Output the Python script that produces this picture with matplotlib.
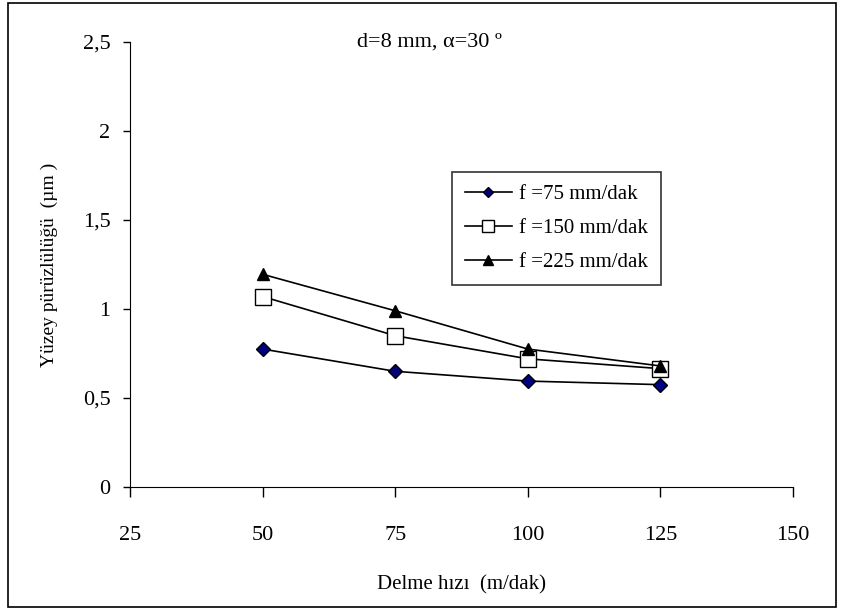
import matplotlib
matplotlib.use("Agg")
import matplotlib.pyplot as plt
from matplotlib.patches import Rectangle
from matplotlib.ticker import FuncFormatter

plt.rcParams["font.family"] = ["Liberation Serif", "DejaVu Serif"]

# data
speed = [50, 75, 100, 125]
f75 = [0.775, 0.65, 0.595, 0.575]
f150 = [1.07, 0.85, 0.72, 0.665]
f225 = [1.195, 0.99, 0.775, 0.68]
labels = ["f =75 mm/dak", "f =150 mm/dak", "f =225 mm/dak"]
x_ticks = [25, 50, 75, 100, 125, 150]
y_ticks = [0, 0.5, 1, 1.5, 2, 2.5]

fig = plt.figure(figsize=(8.44, 6.15), dpi=100)
fig.patches.append(Rectangle((8 / 844, 1 - 607 / 615), 828 / 844, 604 / 615,
                             transform=fig.transFigure, fill=False,
                             edgecolor="black", linewidth=1.2))

ax = fig.add_axes([130 / 844, 1 - 487 / 615, 663 / 844, 445 / 615])

ax.plot(speed, f75, color="black", lw=1.2, marker="D", ms=7,
        mfc="#000080", mec="black", mew=1, label=labels[0])
ax.plot(speed, f150, color="black", lw=1.2, marker="s", ms=11,
        mfc="white", mec="black", mew=1, label=labels[1])
ax.plot(speed, f225, color="black", lw=1.2, marker="^", ms=9,
        mfc="black", mec="black", label=labels[2])

ax.set_xlim(25, 150)
ax.set_ylim(0, 2.5)
ax.set_xticks(x_ticks)
ax.set_yticks(y_ticks)
ax.yaxis.set_major_formatter(FuncFormatter(lambda v, p: f"{v:g}".replace(".", ",")))
ax.spines["top"].set_visible(False)
ax.spines["right"].set_visible(False)
ax.tick_params(direction="out", labelsize=16, width=1)
ax.tick_params(axis="x", length=7, pad=21)
ax.tick_params(axis="y", length=5, pad=9)

ax.set_xlabel("Delme hızı  (m/dak)", fontsize=15, labelpad=22)
ax.set_ylabel("Yüzey pürüzlülüğü  (µm )", fontsize=14, labelpad=18)
ax.text(0.452, 1.0, "d=8 mm, α=30 º", transform=ax.transAxes,
        ha="center", va="center", fontsize=16)

leg = ax.legend(loc="upper left", bbox_to_anchor=(322 / 663, (487 - 172) / 445),
                fontsize=15, frameon=True, fancybox=False, edgecolor="black",
                handlelength=2.3, handletextpad=0.33, markerscale=0.75,
                labelspacing=0.7, borderpad=0.6, borderaxespad=0)
leg.get_frame().set_linewidth(1.2)

fig.savefig("out.png", dpi=100)
